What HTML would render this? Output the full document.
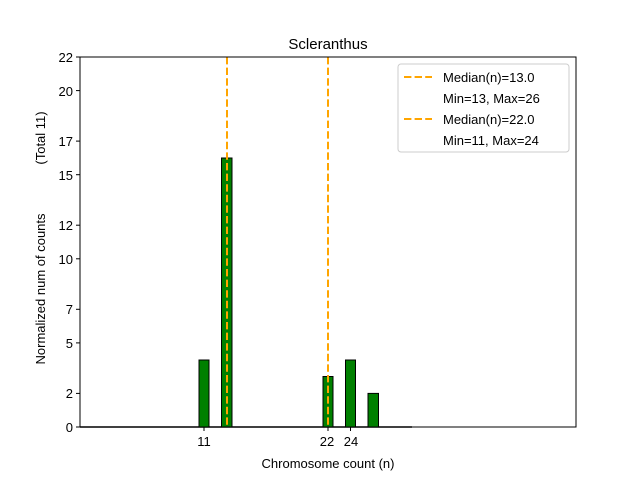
<!DOCTYPE html>
<html><head><style>body{margin:0;background:#fff}</style></head><body>
<svg width="640" height="480" xmlns="http://www.w3.org/2000/svg" font-family="Liberation Sans, DejaVu Sans, sans-serif">
<rect width="640" height="480" fill="#fff"/>
<line x1="80" y1="427" x2="412" y2="427" stroke="#000" stroke-width="1.5"/>
<g fill="#008000" stroke="#000" stroke-width="1">
<rect x="199" y="360" width="10" height="67"/>
<rect x="221.5" y="158" width="10.5" height="269"/>
<rect x="323" y="376.5" width="10" height="50.5"/>
<rect x="345.5" y="360" width="10" height="67"/>
<rect x="368" y="393.4" width="10.5" height="33.6"/>
</g>
<g stroke="#ffa500" stroke-width="2" stroke-dasharray="7.4,3.2">
<line x1="227" y1="57" x2="227" y2="427"/>
<line x1="328" y1="57" x2="328" y2="427"/>
</g>
<rect x="80" y="57" width="496" height="370" fill="none" stroke="#000" stroke-width="1"/>
<g stroke="#000" stroke-width="1">
<line x1="76" y1="427" x2="80" y2="427"/><line x1="76" y1="393.4" x2="80" y2="393.4"/>
<line x1="76" y1="342.9" x2="80" y2="342.9"/><line x1="76" y1="309.3" x2="80" y2="309.3"/>
<line x1="76" y1="258.8" x2="80" y2="258.8"/><line x1="76" y1="225.2" x2="80" y2="225.2"/>
<line x1="76" y1="174.7" x2="80" y2="174.7"/><line x1="76" y1="141.1" x2="80" y2="141.1"/>
<line x1="76" y1="90.6" x2="80" y2="90.6"/><line x1="76" y1="57" x2="80" y2="57"/>
<line x1="204" y1="427" x2="204" y2="431"/><line x1="328" y1="427" x2="328" y2="431"/><line x1="350.5" y1="427" x2="350.5" y2="431"/>
</g>
<g font-size="13" text-anchor="end">
<text x="73" y="432">0</text><text x="73" y="398">2</text><text x="73" y="348">5</text>
<text x="73" y="314">7</text><text x="73" y="264">10</text><text x="73" y="230">12</text>
<text x="73" y="180">15</text><text x="73" y="146">17</text><text x="73" y="96">20</text><text x="73" y="62">22</text>
</g>
<g font-size="13" text-anchor="middle">
<text x="204" y="446">11</text><text x="327" y="446">22</text><text x="351" y="446">24</text>
<text x="328" y="468">Chromosome count (n)</text>
<text x="328" y="49" font-size="15">Scleranthus</text>
</g>
<text font-size="13" text-anchor="middle" transform="translate(45,289) rotate(-90)">Normalized num of counts</text>
<text font-size="13" text-anchor="middle" transform="translate(45,138) rotate(-90)">(Total 11)</text>
<rect x="398" y="64" width="171" height="88" fill="#fff" stroke="#ccc" rx="3"/>
<g stroke="#ffa500" stroke-width="2" stroke-dasharray="7.4,3.2">
<line x1="404" y1="77" x2="432" y2="77"/><line x1="404" y1="119" x2="432" y2="119"/>
</g>
<g font-size="13">
<text x="443" y="82">Median(n)=13.0</text><text x="443" y="103">Min=13, Max=26</text>
<text x="443" y="124">Median(n)=22.0</text><text x="443" y="145">Min=11, Max=24</text>
</g>
</svg>
</body></html>
